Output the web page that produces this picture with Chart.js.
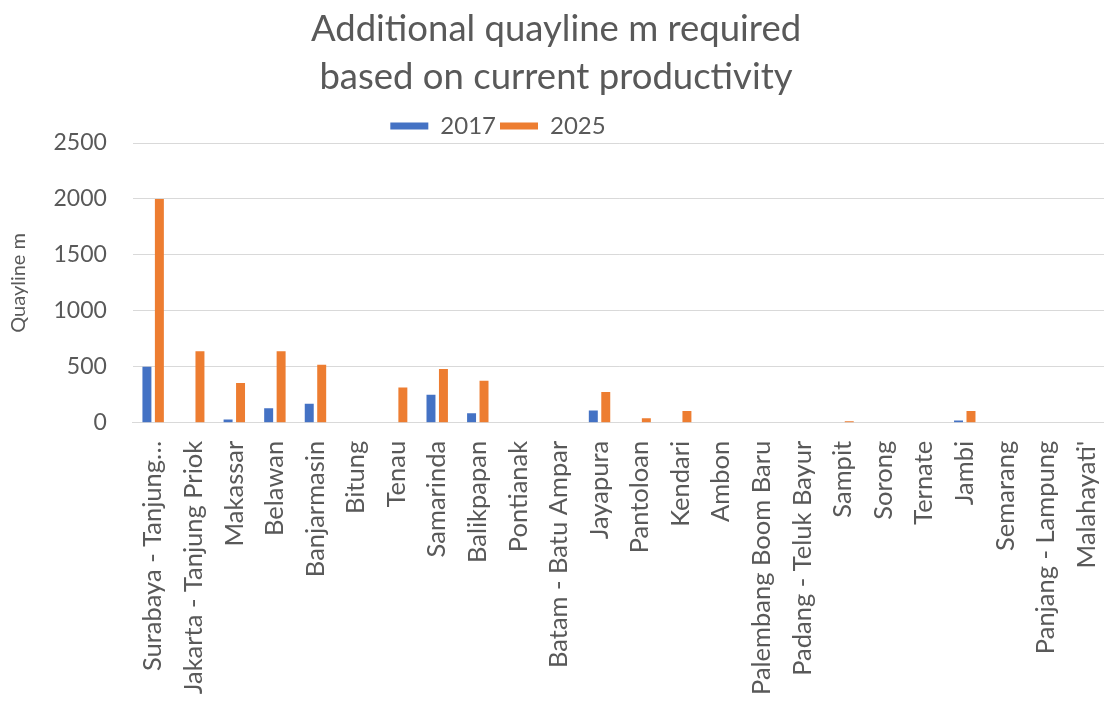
<!DOCTYPE html>
<html>
<head>
<meta charset="utf-8">
<title>Additional quayline</title>
<script src="https://cdn.jsdelivr.net/npm/chart.js@4"></script>
<style>
  html, body { margin: 0; padding: 0; background: #fff; overflow: hidden; }
  #wrap { width: 1112px; height: 704px; position: relative; }
</style>
</head>
<body>
<div id="wrap"><canvas id="chart"></canvas></div>
<script>
const ports = [
  'Surabaya - Tanjung…', 'Jakarta - Tanjung Priok', 'Makassar', 'Belawan', 'Banjarmasin',
  'Bitung', 'Tenau', 'Samarinda', 'Balikpapan', 'Pontianak', 'Batam - Batu Ampar',
  'Jayapura', 'Pantoloan', 'Kendari', 'Ambon', 'Palembang Boom Baru',
  'Padang - Teluk Bayur', 'Sampit', 'Sorong', 'Ternate', 'Jambi', 'Semarang',
  'Panjang - Lampung', "Malahayati'"
];
const q2017 = [500, 0, 30, 130, 170, 0, 0, 250, 85, 0, 0, 110, 0, 0, 0, 0, 0, 0, 0, 0, 20, 0, 0, 0];
const q2025 = [2000, 640, 355, 640, 520, 0, 315, 480, 375, 0, 0, 275, 40, 105, 0, 0, 0, 15, 0, 0, 105, 0, 0, 0];
const yMax = 2500;
const yStep = 500;

const grey = '#595959';
const font = 'Lato, "Open Sans", sans-serif';
const clear = 'rgba(0,0,0,0)';

// legend sits left of centre and slightly over the plot top
const legendShift = {
  id: 'legendShift',
  afterLayout(chart){
    const l = chart.legend;
    l.left -= 58; l.right -= 58;
    l.top += 5; l.bottom += 5;
  }
};

new Chart(document.getElementById('chart'), {
  type: 'bar',
  data: {
    labels: ports,
    datasets: [
      {label: '2017', data: q2017, backgroundColor: '#4472C4', categoryPercentage: 0.614, barPercentage: 0.72},
      {label: '2025', data: q2025, backgroundColor: '#ED7D31', categoryPercentage: 0.614, barPercentage: 0.72}
    ]
  },
  plugins: [legendShift],
  options: {
    responsive: true,
    maintainAspectRatio: false,
    animation: false,
    layout: {padding: {top: 0, right: 0, bottom: 9, left: 0}},
    plugins: {
      title: {
        display: true,
        text: ['Additional quayline m required', 'based on current productivity'],
        color: grey,
        font: {family: font, size: 36.5, weight: 'normal', lineHeight: '48px'},
        padding: {top: 5, bottom: 4}
      },
      legend: {
        labels: {boxWidth: 38, boxHeight: 7, color: grey, padding: 4, font: {family: font, size: 24}}
      },
      tooltip: {enabled: false}
    },
    scales: {
      x: {
        grid: {display: true, drawOnChartArea: false, drawTicks: true, tickLength: 18, tickColor: clear},
        border: {color: '#d9d9d9'},
        ticks: {color: grey, autoSkip: false, maxRotation: 90, minRotation: 90, padding: 0,
                font: {family: font, size: 25.5, lineHeight: 1}}
      },
      y: {
        min: 0, max: yMax,
        grid: {color: '#d9d9d9', drawTicks: true, tickLength: 24, tickColor: clear},
        border: {display: false},
        ticks: {stepSize: yStep, color: grey, padding: 2, format: {useGrouping: false},
                font: {family: font, size: 23}},
        title: {display: true, text: 'Quayline m', color: grey, padding: {top: 7, bottom: 20.5},
                font: {family: font, size: 20}}
      }
    }
  }
});
</script>
</body>
</html>
